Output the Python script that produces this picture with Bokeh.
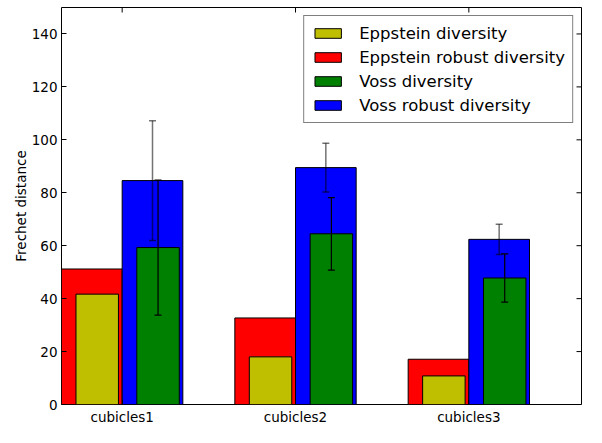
import math
from bokeh.plotting import figure
from bokeh.models import (Range1d, FixedTicker, Legend, LegendItem,
                          ColumnDataSource, Whisker, TeeHead)
from bokeh.embed import file_html
from bokeh.resources import INLINE

# ---- data ----
categories = ["cubicles1", "cubicles2", "cubicles3"]
eppstein_div = [41.7, 18.0, 10.8]
eppstein_robust = [51.2, 32.7, 17.1]
voss_div = [59.3, 64.5, 47.8]
voss_div_err = [25.5, 13.7, 9.1]
voss_robust = [84.6, 89.5, 62.4]
voss_robust_err = [22.6, 9.2, 5.7]
y_ticks = [0, 20, 40, 60, 80, 100, 120, 140]

FONT = "DejaVu Sans"
idx = list(range(len(categories)))
X0, X1, Y0, Y1 = -0.35, 2.65, 0, 150

p = figure(width=586, height=427, output_backend="svg", toolbar_location=None,
           x_range=Range1d(X0, X1), y_range=Range1d(Y0, Y1),
           min_border_left=61, min_border_right=5, min_border_top=7,
           min_border_bottom=22)
p.grid.visible = False
p.outline_line_color = "black"
p.outline_line_width = 1
p.background_fill_color = "white"
p.border_fill_color = "white"

def src(vals, off, err=None):
    d = dict(x=[i + off for i in idx], top=vals)
    if err is not None:
        d["upper"] = [v + e for v, e in zip(vals, err)]
        d["lower"] = [v - e for v, e in zip(vals, err)]
    return ColumnDataSource(d)

s_red = src(eppstein_robust, -0.175)
s_blue = src(voss_robust, 0.175, voss_robust_err)
s_yel = src(eppstein_div, -0.144)
s_grn = src(voss_div, 0.207, voss_div_err)

r_red = p.vbar(x="x", top="top", width=0.35, source=s_red, fill_color="#ff0000",
               line_color="black", line_width=1)
r_blue = p.vbar(x="x", top="top", width=0.35, source=s_blue, fill_color="#0000ff",
                line_color="black", line_width=1)
r_yel = p.vbar(x="x", top="top", width=0.245, source=s_yel, fill_color="#bfbf00",
               line_color="black", line_width=1)
r_grn = p.vbar(x="x", top="top", width=0.245, source=s_grn, fill_color="#008000",
               line_color="black", line_width=1)
w_blue = Whisker(base="x", upper="upper", lower="lower", source=s_blue, level="overlay",
                 line_color="black", line_alpha=0.55, line_width=1.5,
                 upper_head=TeeHead(size=7, line_color="black", line_alpha=0.55, line_width=1.5),
                 lower_head=TeeHead(size=7, line_color="black", line_alpha=0.55, line_width=1.5))
p.add_layout(w_blue)
w_grn = Whisker(base="x", upper="upper", lower="lower", source=s_grn, level="overlay",
                line_color="black", line_width=1.2,
                upper_head=TeeHead(size=7, line_color="black", line_width=1.2),
                lower_head=TeeHead(size=7, line_color="black", line_width=1.2))
p.add_layout(w_grn)

for ax in (p.xaxis[0], p.yaxis[0]):
    ax.major_tick_in = 5
    ax.major_tick_out = 0
    ax.minor_tick_in = 0
    ax.minor_tick_out = 0
    ax.axis_line_color = None
    ax.major_tick_line_color = "black"
    ax.major_label_text_font = FONT
    ax.major_label_text_color = "black"
    ax.major_label_text_font_size = "13.5px"

p.yaxis.ticker = FixedTicker(ticks=y_ticks)
p.xaxis.ticker = FixedTicker(ticks=idx)
p.xaxis.major_label_overrides = {i: c for i, c in zip(idx, categories)}
p.yaxis.major_label_standoff = 4
p.xaxis.major_label_standoff = 4
p.yaxis.axis_label = "Frechet distance"
p.yaxis.axis_label_text_font = FONT
p.yaxis.axis_label_text_font_size = "13.5px"
p.yaxis.axis_label_text_font_style = "normal"
p.yaxis.axis_label_text_color = "black"
p.yaxis.axis_label_standoff = 0

# inward ticks mirrored on the top and right frame edges
p.ray(x=idx, y=[Y1] * len(idx), length=5, length_units="screen",
      angle=-math.pi / 2, line_color="black", line_width=1)
p.ray(x=[X1] * len(y_ticks), y=y_ticks, length=5, length_units="screen",
      angle=math.pi, line_color="black", line_width=1)

legend = Legend(items=[
    LegendItem(label="Eppstein diversity", renderers=[r_yel]),
    LegendItem(label="Eppstein robust diversity", renderers=[r_red]),
    LegendItem(label="Voss diversity", renderers=[r_grn]),
    LegendItem(label="Voss robust diversity", renderers=[r_blue]),
], location="top_right")
legend.margin = 8
legend.padding = 7
legend.spacing = 4
legend.glyph_width = 33
legend.glyph_height = 12
legend.label_height = 20
legend.label_standoff = 15
legend.label_text_font = FONT
legend.label_text_font_size = "16.5px"
legend.label_text_color = "black"
legend.border_line_color = "black"
legend.border_line_width = 1
legend.background_fill_color = "white"
legend.background_fill_alpha = 1
p.add_layout(legend)

open("out.html", "w").write(file_html(p, INLINE))
